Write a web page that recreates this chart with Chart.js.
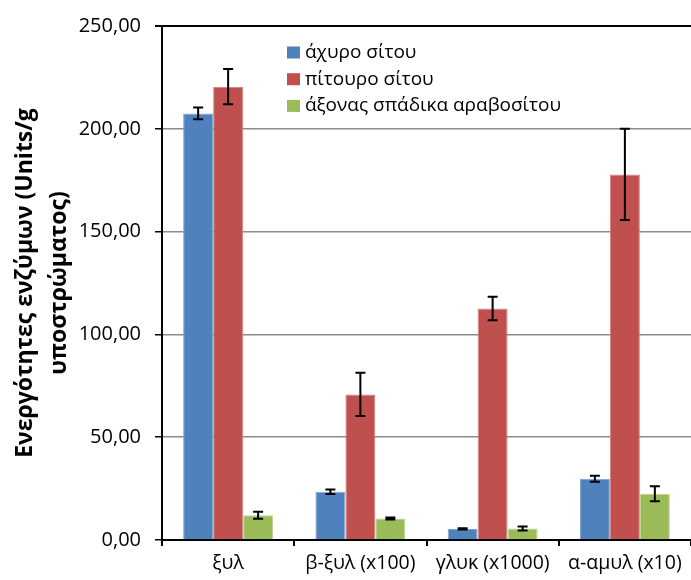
<!DOCTYPE html>
<html>
<head>
<meta charset="utf-8">
<script src="https://cdn.jsdelivr.net/npm/chart.js@4.4.1/dist/chart.umd.min.js"></script>
<style>
html,body{margin:0;padding:0;background:#fff;}
#wrap{width:691px;height:580px;position:relative;}
</style>
</head>
<body>
<div id="wrap"><canvas id="c" width="691" height="580"></canvas></div>
<script>
const categories = ["ξυλ", "β-ξυλ (x100)", "γλυκ (x1000)", "α-αμυλ (x10)"];
const seriesNames = ["άχυρο σίτου", "πίτουρο σίτου", "άξονας σπάδικα αραβοσίτου"];
const strawValues = [207.5, 23.5, 5.4, 29.8];
const strawErrors = [2.9, 1.1, 0.3, 1.5];
const branValues = [220.5, 70.8, 112.6, 177.8];
const branErrors = [8.6, 10.5, 5.7, 22.2];
const cobValues = [12.0, 10.5, 5.6, 22.5];
const cobErrors = [1.7, 0.5, 1.0, 3.7];
const yTicks = [0, 50, 100, 150, 200, 250];
const yTitle = ["Ενεργότητες ενζύμων (Units/g", "υποστρώματος)"];

const FONT = "'Open Sans', sans-serif";

const errorBars = {
  id: 'errorBars',
  afterDatasetsDraw(chart) {
    const ctx = chart.ctx;
    const y = chart.scales.y;
    ctx.save();
    ctx.strokeStyle = '#000';
    ctx.lineWidth = 2;
    chart.data.datasets.forEach((ds, i) => {
      const meta = chart.getDatasetMeta(i);
      meta.data.forEach((bar, j) => {
        const v = ds.data[j], e = ds.errors[j];
        const x = bar.x;
        const yt = y.getPixelForValue(v + e), yb = y.getPixelForValue(v - e);
        const cap = 5;
        ctx.beginPath();
        ctx.moveTo(x, yt); ctx.lineTo(x, yb);
        ctx.moveTo(x - cap, yt); ctx.lineTo(x + cap, yt);
        ctx.moveTo(x - cap, yb); ctx.lineTo(x + cap, yb);
        ctx.stroke();
      });
    });
    ctx.restore();
  }
};

const insideLegend = {
  id: 'insideLegend',
  afterDraw(chart) {
    const ctx = chart.ctx;
    ctx.save();
    ctx.font = "19px " + FONT;
    ctx.textBaseline = 'middle';
    chart.data.datasets.forEach((ds, i) => {
      const cy = 52.5 + i * 26.7;
      ctx.fillStyle = ds.backgroundColor;
      ctx.fillRect(287, cy - 6, 13, 12);
      ctx.fillStyle = '#000';
      ctx.fillText(ds.label, 305, cy);
    });
    ctx.restore();
  }
};

new Chart(document.getElementById('c'), {
  type: 'bar',
  data: {
    labels: categories,
    datasets: [
      { label: seriesNames[0], data: strawValues, errors: strawErrors, backgroundColor: '#4F81BD', borderColor: '#7FA3D1', borderWidth: 1 },
      { label: seriesNames[1], data: branValues, errors: branErrors, backgroundColor: '#C0504D', borderColor: '#D68380', borderWidth: 1 },
      { label: seriesNames[2], data: cobValues, errors: cobErrors, backgroundColor: '#9BBB59', borderColor: '#BDD38F', borderWidth: 1 }
    ]
  },
  options: {
    responsive: false,
    animation: false,
    layout: { padding: { top: 22, right: 0, left: 0, bottom: 0 } },
    plugins: { legend: { display: false }, tooltip: { enabled: false } },
    datasets: { bar: { categoryPercentage: 0.68, barPercentage: 1.0 } },
    scales: {
      x: {
        grid: { drawOnChartArea: false, drawTicks: true, tickLength: 6, color: '#000', lineWidth: 2, offset: true },
        border: { color: '#000', width: 2 },
        ticks: { color: '#000', font: { family: FONT, size: 19.5 }, padding: 6, maxRotation: 0, autoSkip: false },
        afterFit(s) { s.height = 40; }
      },
      y: {
        min: 0, max: 250,
        afterBuildTicks(s) { s.ticks = yTicks.map(v => ({ value: v })); },
        grid: {
          color: (c) => c.tick && c.tick.value === 250 ? '#000' : '#8c8c8c',
          lineWidth: (c) => c.tick && c.tick.value === 250 ? 2 : 1.5,
          tickLength: 7,
          tickColor: '#000'
        },
        border: { color: '#000', width: 2 },
        ticks: {
          color: '#000', font: { family: FONT, size: 20 }, padding: 14,
          callback: (v) => v.toFixed(2).replace('.', ',')
        },
        title: {
          display: true, text: yTitle, color: '#000',
          font: { family: FONT, size: 23, weight: 'bold', lineHeight: 1.48 },
          padding: { top: 8, bottom: 0 }
        },
        afterFit(s) { s.width = 162; }
      }
    }
  },
  plugins: [errorBars, insideLegend]
});
</script>
</body>
</html>
